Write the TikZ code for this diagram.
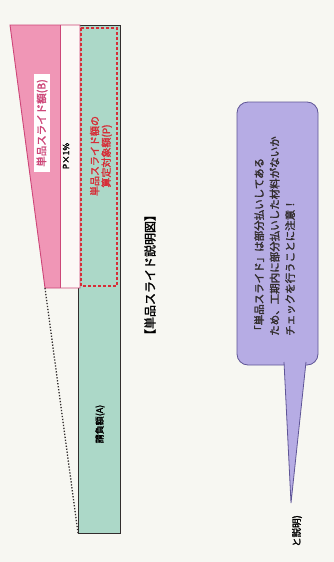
\documentclass[tikz,border=0pt]{standalone}
\usepackage{fontspec}
\setmainfont{Noto Sans CJK JP}
\newfontfamily\jpbold{Noto Sans CJK JP}[FakeBold=2]
\definecolor{bgc}{RGB}{247,247,242}
\definecolor{pinkf}{RGB}{240,150,182}
\definecolor{pinkd}{RGB}{205,70,120}
\definecolor{whitestrip}{RGB}{252,248,246}
\definecolor{greenf}{RGB}{172,216,200}
\definecolor{redd}{RGB}{215,45,55}
\definecolor{purf}{RGB}{182,172,228}
\definecolor{purd}{RGB}{95,85,150}
\definecolor{darkl}{RGB}{50,45,45}
\tikzset{
  lbl/.style={rotate=90,inner sep=1pt,font=\jpbold},
  callout/.style={fill=purf,draw=purd,line width=0.8pt},
}
\begin{document}
\begin{tikzpicture}[x=1pt,y=-1pt]
\useasboundingbox (0,0) rectangle (334,562);
\clip (0,0) rectangle (334,562);
\fill[bgc] (0,0) rectangle (334,562);
% coordinates
\coordinate (ptl) at (10,25);
\coordinate (psplit) at (60,25);
\coordinate (ptr) at (80,25);
\coordinate (pbl) at (45,288);
\coordinate (psb) at (60,288);
\coordinate (pbr) at (80,288);
\coordinate (gtl) at (78,25);
\coordinate (gbr) at (120,533);
\coordinate (gbl) at (78,533);
% green contract amount bar
\filldraw[fill=greenf,draw=darkl,line width=0.9pt] (gtl) rectangle (gbr);
% pink trapezoid
\fill[whitestrip] (psplit) -- (ptr) -- (pbr) -- (psb) -- cycle;
\fill[pinkf] (ptl) -- (psplit) -- (psb) -- (pbl) -- cycle;
\draw[pinkd,line width=0.6pt] (psplit) -- (psb);
\draw[pinkd,line width=0.9pt] (ptl) -- (ptr) -- (pbr) -- (pbl) -- cycle;
% red dashed target
\draw[redd,line width=1.4pt,dash pattern=on 3pt off 2pt] (81,28) rectangle (117,286);
% dotted guide
\draw[darkl,line width=1.3pt,dash pattern=on 1.3pt off 1.7pt] (pbl) -- (gbl);
% labels
\node[lbl,fill=white,text=pinkd,font=\jpbold\fontsize{10.5}{11}\selectfont,inner xsep=5pt,inner ysep=2.5pt] (bamt) at (42,123) {単品スライド額(B)};
\node[lbl,font=\jpbold\fontsize{8.5}{9}\selectfont] (p1) at (66,156) {P×1\%};
\node[lbl,text=redd,align=center,font=\jpbold\fontsize{10}{11.5}\selectfont] (pamt) at (101,156) {単品スライド額の\\算定対象額(P)};
\node[lbl,font=\jpbold\fontsize{9}{10}\selectfont] (aamt) at (100,424) {請負額(A)};
\node[lbl,font=\jpbold\fontsize{12}{13}\selectfont] (title) at (150,275) {【単品スライド説明図】};
% callout
\coordinate (tip) at (291,503);
\coordinate (tl) at (284,362);
\coordinate (tr) at (306,362);
\draw[callout,rounded corners=11] (237,102) rectangle (318,365);
\fill[purf] (tl) -- (tip) -- (tr) -- cycle;
\draw[purd,line width=0.8pt] (tl) -- (tip) -- (tr);
\node[lbl,align=left,font=\jpbold\fontsize{10.5}{15.5}\selectfont,anchor=north west,text=darkl] (note) at (253,337) {「単品スライド」は部分払いしてある\\ため、工期内に部分払いした材料がないか\\チェックを行うことに注意！};
\node[lbl,font=\jpbold\fontsize{9.5}{10}\selectfont,anchor=east] (foot) at (297,514) {と説明)};
\end{tikzpicture}
\end{document}
